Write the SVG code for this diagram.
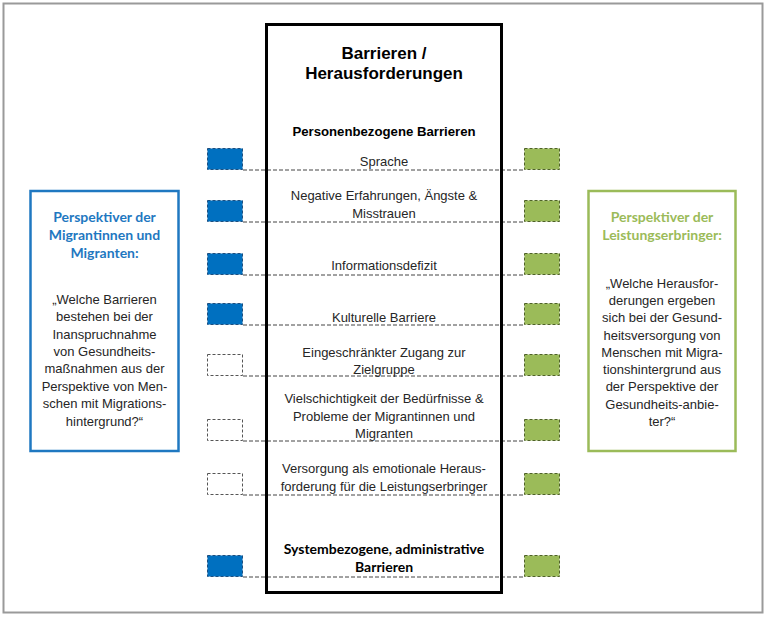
<svg xmlns="http://www.w3.org/2000/svg" width="768" height="617" viewBox="0 0 768 617">
<style>
.t{font-family:"Liberation Sans",Arial,sans-serif;fill:#262626;font-size:13px;text-anchor:middle}
.b{font-family:"Liberation Sans",Arial,sans-serif;font-weight:bold;fill:#000;text-anchor:middle}
.h{font-family:Lato,"Open Sans",sans-serif;font-weight:bold;font-size:14px;text-anchor:middle}
.blue{fill:#0070c0;stroke:#1d4f80;stroke-width:1;stroke-dasharray:3 2}
.green{fill:#9bbb59;stroke:#4f6228;stroke-width:1;stroke-dasharray:3 2}
.empty{fill:#fff;stroke:#555;stroke-width:1;stroke-dasharray:3 2}
.c{stroke:#444;stroke-width:1;stroke-dasharray:4 2;fill:none}
</style>
<rect x="0" y="0" width="768" height="617" fill="#fff"/>
<rect x="3.5" y="3.5" width="759" height="609" fill="none" stroke="#9a9a9a" stroke-width="2"/>

<g id="connectors">
<line class="c" x1="243" y1="170" x2="524" y2="170"/>
<line class="c" x1="243" y1="222" x2="524" y2="222"/>
<line class="c" x1="243" y1="275" x2="524" y2="275"/>
<line class="c" x1="243" y1="325" x2="524" y2="325"/>
<line class="c" x1="243" y1="376" x2="524" y2="376"/>
<line class="c" x1="243" y1="441" x2="524" y2="441"/>
<line class="c" x1="243" y1="495" x2="524" y2="495"/>
<line class="c" x1="243" y1="577" x2="524" y2="577"/>
</g>

<g id="center">
<rect x="266.5" y="24.5" width="235" height="568" fill="none" stroke="#000" stroke-width="3"/>
<text class="b" font-size="17" x="384" y="59">Barrieren /</text>
<text class="b" font-size="17" x="384" y="79">Herausforderungen</text>
<text class="b" font-size="13.2" x="384" y="136">Personenbezogene Barrieren</text>
</g>

<g id="row-sprache">
<rect class="blue" x="207.5" y="148.5" width="35" height="21"/>
<rect class="green" x="524.5" y="148.5" width="35" height="21"/>
<text class="t" x="384" y="166">Sprache</text>
</g>
<g id="row-negative">
<rect class="blue" x="207.5" y="200.5" width="35" height="21"/>
<rect class="green" x="524.5" y="200.5" width="35" height="21"/>
<text class="t" x="384" y="200">Negative Erfahrungen, Ängste &amp;</text>
<text class="t" x="384" y="218">Misstrauen</text>
</g>
<g id="row-info">
<rect class="blue" x="207.5" y="253.5" width="35" height="21"/>
<rect class="green" x="524.5" y="253.5" width="35" height="21"/>
<text class="t" x="384" y="270">Informationsdefizit</text>
</g>
<g id="row-kultur">
<rect class="blue" x="207.5" y="303.5" width="35" height="21"/>
<rect class="green" x="524.5" y="303.5" width="35" height="21"/>
<text class="t" x="384" y="322">Kulturelle Barriere</text>
</g>
<g id="row-zugang">
<rect class="empty" x="207.5" y="354.5" width="35" height="21"/>
<rect class="green" x="524.5" y="354.5" width="35" height="21"/>
<text class="t" x="384" y="357">Eingeschränkter Zugang zur</text>
<text class="t" x="384" y="374">Zielgruppe</text>
</g>
<g id="row-vielschichtigkeit">
<rect class="empty" x="207.5" y="419.5" width="35" height="21"/>
<rect class="green" x="524.5" y="419.5" width="35" height="21"/>
<text class="t" x="384" y="403">Vielschichtigkeit der Bedürfnisse &amp;</text>
<text class="t" x="384" y="421">Probleme der Migrantinnen und</text>
<text class="t" x="384" y="438">Migranten</text>
</g>
<g id="row-versorgung">
<rect class="empty" x="207.5" y="473.5" width="35" height="21"/>
<rect class="green" x="524.5" y="473.5" width="35" height="21"/>
<text class="t" x="384" y="473">Versorgung als emotionale Heraus-</text>
<text class="t" x="384" y="491">forderung für die Leistungserbringer</text>
</g>
<g id="row-system">
<rect class="blue" x="207.5" y="555.5" width="35" height="21"/>
<rect class="green" x="524.5" y="555.5" width="35" height="21"/>
<text class="h" fill="#000" x="384" y="554">Systembezogene, administrative</text>
<text class="h" fill="#000" x="384" y="572">Barrieren</text>
</g>

<g id="left-box">
<rect x="30.5" y="191" width="148" height="260" fill="#fff" stroke="#1f78c1" stroke-width="2.5"/>
<text class="h" fill="#1f78c1" x="104.5" y="222">Perspektiver der</text>
<text class="h" fill="#1f78c1" x="104.5" y="240">Migrantinnen und</text>
<text class="h" fill="#1f78c1" x="104.5" y="258">Migranten:</text>
<text class="t" x="104.5" y="304">„Welche Barrieren</text>
<text class="t" x="104.5" y="321">bestehen bei der</text>
<text class="t" x="104.5" y="338.5">Inanspruchnahme</text>
<text class="t" x="104.5" y="356">von Gesundheits-</text>
<text class="t" x="104.5" y="373">maßnahmen aus der</text>
<text class="t" x="104.5" y="390.5">Perspektive von Men-</text>
<text class="t" x="104.5" y="408">schen mit Migrations-</text>
<text class="t" x="104.5" y="425.5">hintergrund?“</text>
</g>

<g id="right-box">
<rect x="588.5" y="191" width="147" height="260" fill="#fff" stroke="#9bbb59" stroke-width="2.5"/>
<text class="h" fill="#9bbb59" x="662" y="222">Perspektiver der</text>
<text class="h" fill="#9bbb59" x="662" y="240">Leistungserbringer:</text>
<text class="t" x="662" y="288">„Welche Herausfor-</text>
<text class="t" x="662" y="305">derungen ergeben</text>
<text class="t" x="662" y="322">sich bei der Gesund-</text>
<text class="t" x="662" y="339.5">heitsversorgung von</text>
<text class="t" x="662" y="357">Menschen mit Migra-</text>
<text class="t" x="662" y="374">tionshintergrund aus</text>
<text class="t" x="662" y="391">der Perspektive der</text>
<text class="t" x="662" y="408.5">Gesundheits-anbie-</text>
<text class="t" x="662" y="426">ter?“</text>
</g>
</svg>
